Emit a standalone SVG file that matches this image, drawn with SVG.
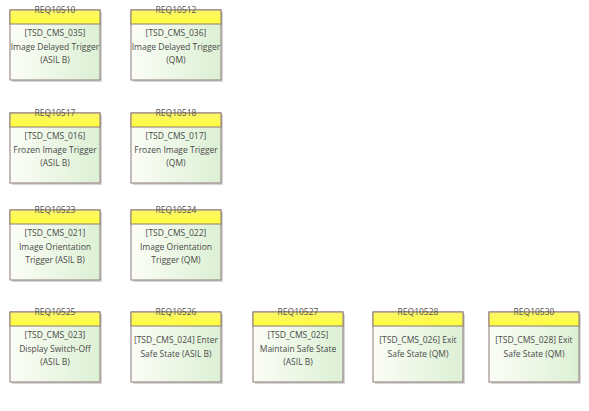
<svg xmlns="http://www.w3.org/2000/svg" width="589" height="411" viewBox="0 0 589 411">
<defs>
<linearGradient id="body" x1="0" y1="0" x2="1" y2="0">
<stop offset="0" stop-color="#fbfdf6"/>
<stop offset="1" stop-color="#dcf0d4"/>
</linearGradient>
<linearGradient id="head" x1="0" y1="0" x2="0" y2="1">
<stop offset="0" stop-color="#fbf56a"/>
<stop offset="1" stop-color="#ffff3c"/>
</linearGradient>
</defs>
<style>
.sh{fill:#d6d6d6}
.bd{fill:url(#body);stroke:#8e7a78;stroke-width:1}
.hd{fill:url(#head);stroke:#8e7a78;stroke-width:1}
.t{font-family:"Open Sans","Liberation Sans",sans-serif;font-size:8.5px;fill:#4a4a4a;text-anchor:middle}
.h{font-family:"Open Sans","Liberation Sans",sans-serif;font-size:8.5px;fill:#555;text-anchor:middle}
</style>
<rect width="589" height="411" fill="#ffffff"/>
<g id="connectors"/>
<g id="REQ10510" transform="translate(10,10)">
<rect class="sh" x="2" y="2" width="90" height="70"/>
<rect class="bd" x="0" y="0" width="90" height="70"/>
<rect class="hd" x="0" y="0" width="90" height="14"/>
<text class="h" x="45" y="3">REQ10510</text>
<text class="t" x="45" y="26">[TSD_CMS_035]</text>
<text class="t" x="45" y="39.5">Image Delayed Trigger</text>
<text class="t" x="45" y="53">(ASIL B)</text>
</g>
<g id="REQ10512" transform="translate(131,10)">
<rect class="sh" x="2" y="2" width="90" height="70"/>
<rect class="bd" x="0" y="0" width="90" height="70"/>
<rect class="hd" x="0" y="0" width="90" height="14"/>
<text class="h" x="45" y="3">REQ10512</text>
<text class="t" x="45" y="26">[TSD_CMS_036]</text>
<text class="t" x="45" y="39.5">Image Delayed Trigger</text>
<text class="t" x="45" y="53">(QM)</text>
</g>
<g id="REQ10517" transform="translate(10,113)">
<rect class="sh" x="2" y="2" width="90" height="70"/>
<rect class="bd" x="0" y="0" width="90" height="70"/>
<rect class="hd" x="0" y="0" width="90" height="14"/>
<text class="h" x="45" y="3">REQ10517</text>
<text class="t" x="45" y="26">[TSD_CMS_016]</text>
<text class="t" x="45" y="39.5">Frozen Image Trigger</text>
<text class="t" x="45" y="53">(ASIL B)</text>
</g>
<g id="REQ10518" transform="translate(131,113)">
<rect class="sh" x="2" y="2" width="90" height="70"/>
<rect class="bd" x="0" y="0" width="90" height="70"/>
<rect class="hd" x="0" y="0" width="90" height="14"/>
<text class="h" x="45" y="3">REQ10518</text>
<text class="t" x="45" y="26">[TSD_CMS_017]</text>
<text class="t" x="45" y="39.5">Frozen Image Trigger</text>
<text class="t" x="45" y="53">(QM)</text>
</g>
<g id="REQ10523" transform="translate(10,210)">
<rect class="sh" x="2" y="2" width="90" height="70"/>
<rect class="bd" x="0" y="0" width="90" height="70"/>
<rect class="hd" x="0" y="0" width="90" height="14"/>
<text class="h" x="45" y="3">REQ10523</text>
<text class="t" x="45" y="26">[TSD_CMS_021]</text>
<text class="t" x="45" y="39.5">Image Orientation</text>
<text class="t" x="45" y="53">Trigger (ASIL B)</text>
</g>
<g id="REQ10524" transform="translate(131,210)">
<rect class="sh" x="2" y="2" width="90" height="70"/>
<rect class="bd" x="0" y="0" width="90" height="70"/>
<rect class="hd" x="0" y="0" width="90" height="14"/>
<text class="h" x="45" y="3">REQ10524</text>
<text class="t" x="45" y="26">[TSD_CMS_022]</text>
<text class="t" x="45" y="39.5">Image Orientation</text>
<text class="t" x="45" y="53">Trigger (QM)</text>
</g>
<g id="REQ10525" transform="translate(10,312)">
<rect class="sh" x="2" y="2" width="90" height="70"/>
<rect class="bd" x="0" y="0" width="90" height="70"/>
<rect class="hd" x="0" y="0" width="90" height="14"/>
<text class="h" x="45" y="3">REQ10525</text>
<text class="t" x="45" y="26">[TSD_CMS_023]</text>
<text class="t" x="45" y="39.5">Display Switch-Off</text>
<text class="t" x="45" y="53">(ASIL B)</text>
</g>
<g id="REQ10526" transform="translate(131,312)">
<rect class="sh" x="2" y="2" width="90" height="70"/>
<rect class="bd" x="0" y="0" width="90" height="70"/>
<rect class="hd" x="0" y="0" width="90" height="14"/>
<text class="h" x="45" y="3">REQ10526</text>
<text class="t" x="45" y="31">[TSD_CMS_024] Enter</text>
<text class="t" x="45" y="44.5">Safe State (ASIL B)</text>
</g>
<g id="REQ10527" transform="translate(253,312)">
<rect class="sh" x="2" y="2" width="90" height="70"/>
<rect class="bd" x="0" y="0" width="90" height="70"/>
<rect class="hd" x="0" y="0" width="90" height="14"/>
<text class="h" x="45" y="3">REQ10527</text>
<text class="t" x="45" y="26">[TSD_CMS_025]</text>
<text class="t" x="45" y="39.5">Maintain Safe State</text>
<text class="t" x="45" y="53">(ASIL B)</text>
</g>
<g id="REQ10528" transform="translate(373,312)">
<rect class="sh" x="2" y="2" width="90" height="70"/>
<rect class="bd" x="0" y="0" width="90" height="70"/>
<rect class="hd" x="0" y="0" width="90" height="14"/>
<text class="h" x="45" y="3">REQ10528</text>
<text class="t" x="45" y="31">[TSD_CMS_026] Exit</text>
<text class="t" x="45" y="44.5">Safe State (QM)</text>
</g>
<g id="REQ10530" transform="translate(489,312)">
<rect class="sh" x="2" y="2" width="90" height="70"/>
<rect class="bd" x="0" y="0" width="90" height="70"/>
<rect class="hd" x="0" y="0" width="90" height="14"/>
<text class="h" x="45" y="3">REQ10530</text>
<text class="t" x="45" y="31">[TSD_CMS_028] Exit</text>
<text class="t" x="45" y="44.5">Safe State (QM)</text>
</g>
</svg>
